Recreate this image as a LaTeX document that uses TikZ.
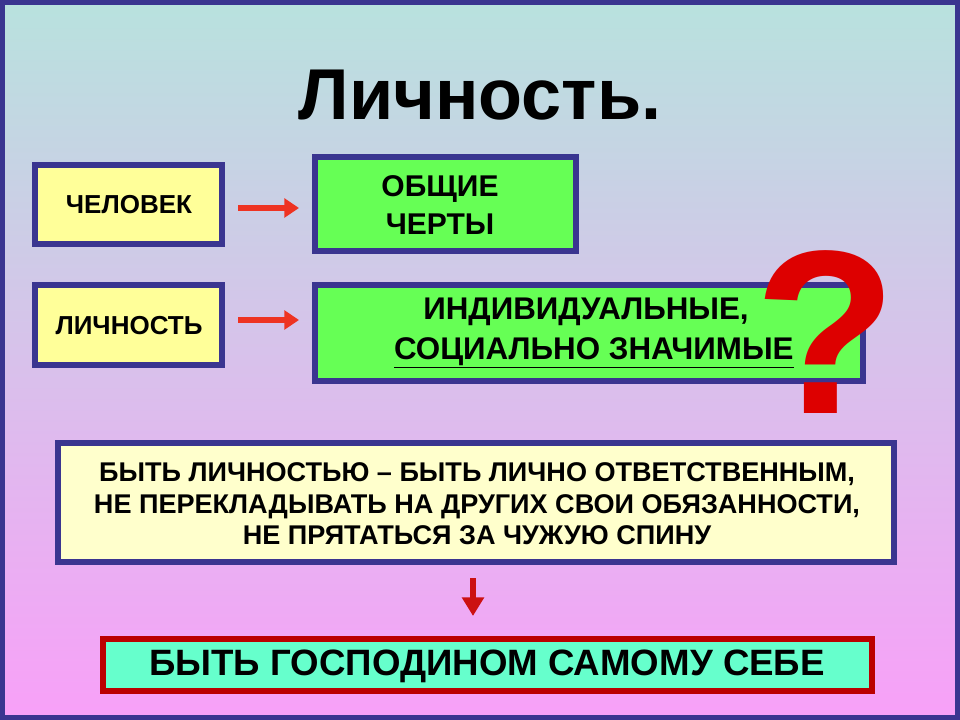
\documentclass[tikz,border=0pt]{standalone}
\usepackage{fontspec}
\setmainfont{Liberation Sans}
\usetikzlibrary{arrows.meta}
\definecolor{frame}{HTML}{3A3590}
\definecolor{bgtop}{HTML}{B8E2DE}
\definecolor{bgbot}{HTML}{F8A0F8}
\definecolor{ybox}{HTML}{FFFF99}
\definecolor{lybox}{HTML}{FFFFCC}
\definecolor{gbox}{HTML}{66FF55}
\definecolor{aqbox}{HTML}{66FFCC}
\definecolor{arr}{HTML}{EE3322}
\definecolor{darr}{HTML}{CC1111}
\definecolor{qm}{HTML}{DD0000}
\definecolor{rb}{HTML}{BB0000}
\begin{document}
\begin{tikzpicture}[x=0.75pt,y=-0.75pt,
  box/.style={draw=frame,line width=4.5pt},
  rarrow/.style={-{Triangle[length=11pt,width=14pt]},line width=4.5pt,draw=arr}]
\useasboundingbox (0,0) rectangle (960,720);
\shade[top color=bgtop,bottom color=bgbot] (0,0) rectangle (960,720);
\draw[frame,line width=3.5pt] (2.5,2.5) rectangle (957.5,717.5);
\node[font=\fontsize{54}{56}\selectfont\bfseries] (title) at (480,95) {Личность.};
\draw[box,fill=ybox] (35,165) rectangle (222,244);
\node[font=\fontsize{19.5}{20}\selectfont\bfseries] (ta) at (129,205) {ЧЕЛОВЕК};
\draw[box,fill=gbox] (315,157) rectangle (576,251);
\node[font=\fontsize{22.5}{28}\selectfont\bfseries,align=center] (tb) at (440,205) {ОБЩИЕ\\ЧЕРТЫ};
\draw[box,fill=ybox] (35,285) rectangle (222,365);
\node[font=\fontsize{19.5}{20}\selectfont\bfseries] (tc) at (129,326) {ЛИЧНОСТЬ};
\draw[box,fill=gbox] (315,285) rectangle (863,381);
\node[font=\fontsize{23.5}{30}\selectfont\bfseries,align=center] (td) at (586,333) {ИНДИВИДУАЛЬНЫЕ,\\\hspace*{0.5em}\underline{СОЦИАЛЬНО ЗНАЧИМЫЕ}};
\coordinate (a1) at (238,208); \coordinate (a2) at (299,208);
\coordinate (b1) at (238,320); \coordinate (b2) at (299,320);
\draw[rarrow] (a1) -- (a2);
\draw[rarrow] (b1) -- (b2);
\node[font=\fontsize{175}{175}\selectfont\bfseries,text=qm] (q) at (826,332) {?};
\draw[box,fill=lybox] (58,443) rectangle (894,562);
\node[font=\fontsize{20.3}{23.5}\selectfont\bfseries,align=center] (te) at (477,504) {БЫТЬ ЛИЧНОСТЬЮ – БЫТЬ ЛИЧНО ОТВЕТСТВЕННЫМ,\\НЕ ПЕРЕКЛАДЫВАТЬ НА ДРУГИХ СВОИ ОБЯЗАННОСТИ,\\НЕ ПРЯТАТЬСЯ ЗА ЧУЖУЮ СПИНУ};
\coordinate (c1) at (473,578); \coordinate (c2) at (473,616);
\draw[-{Triangle[length=14pt,width=16pt]},line width=4.5pt,draw=darr] (c1) -- (c2);
\draw[draw=rb,line width=4.5pt,fill=aqbox] (103,639) rectangle (872,691);
\node[font=\fontsize{27.5}{28}\selectfont\bfseries] (tf) at (487,666) {БЫТЬ ГОСПОДИНОМ САМОМУ СЕБЕ};
\end{tikzpicture}
\end{document}
